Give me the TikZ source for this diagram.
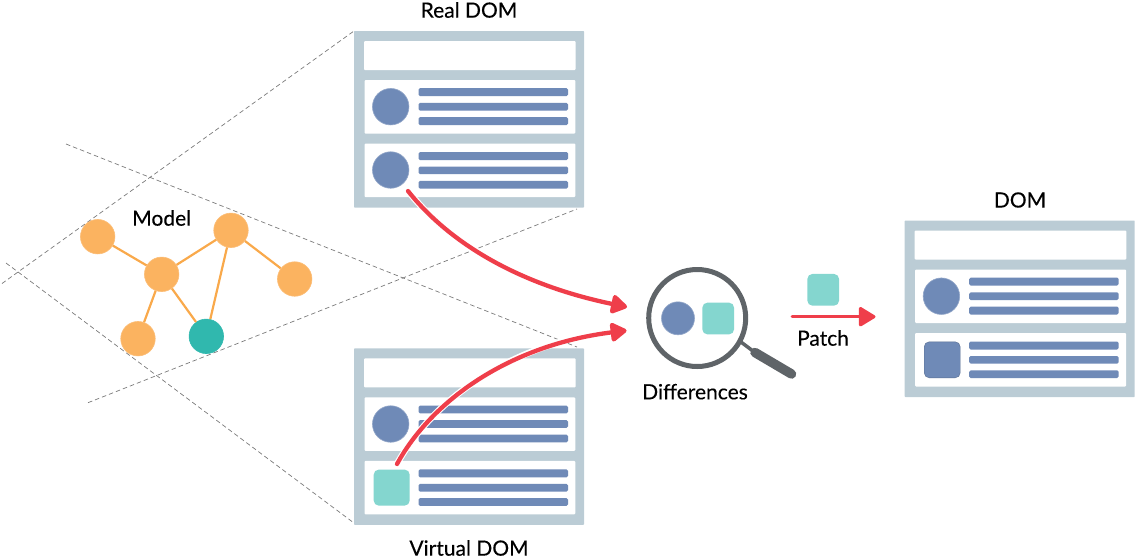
\documentclass[tikz,border=0pt]{standalone}
\usepackage{fontspec}
\setmainfont{Lato}[RawFeature={embolden=0.25}]
\usetikzlibrary{arrows.meta}
\definecolor{winbg}{HTML}{BBCCD5}
\definecolor{blueitem}{HTML}{6F8AB7}
\definecolor{tealitem}{HTML}{84D6CF}
\definecolor{orangeitem}{HTML}{FBB360}
\definecolor{orangeline}{HTML}{F9A94B}
\definecolor{tealdark}{HTML}{30B8AE}
\definecolor{redline}{HTML}{EF3E4A}
\definecolor{lensgray}{HTML}{5F6468}
\definecolor{dashgray}{HTML}{7A7A7A}
\tikzset{
  x=1pt,y=-1pt,
  panel/.style={fill=white,rounded corners=1pt},
  textbar/.style={fill=blueitem,rounded corners=1.5pt},
  avatar/.style={circle,fill=blueitem,draw=blueitem!75!white,line width=.6pt,inner sep=0pt,minimum size=36.5pt},
  squareitem/.style={rectangle,rounded corners=5pt,inner sep=0pt,minimum size=36pt},
  graphnode/.style={circle,fill=orangeitem,draw=orangeitem!85!white,line width=.6pt,inner sep=0pt,minimum size=34.5pt},
  graphedge/.style={orangeline,line width=2.2pt},
  guide/.style={dashgray,line width=.7pt,dash pattern=on 4.5pt off 3pt},
  redarrow/.style={redline,line width=4.3pt,line cap=round,-{Triangle[length=18pt,width=21pt,round=false]}},
  halo/.style={white,line width=6.5pt},
  labeltext/.style={text=black,font=\fontsize{21}{25}\selectfont,inner sep=0pt},
}
\newcommand{\domwin}[4]{%
  \begin{scope}[shift={(#2,#3)}]
    \fill[winbg,rounded corners=.7pt] (354,31) rectangle (584,207.5);
    \fill[panel] (364,41) rectangle (575.7,70);
    \fill[panel] (364.5,80) rectangle (575.3,133.5);
    \fill[panel] (364.5,143.5) rectangle (575.3,197);
    \node[avatar] (#1a) at (390.7,106.7) {};
    \fill[textbar] (418.5,88.2) rectangle (568,96);
    \fill[textbar] (418.5,102.8) rectangle (568,110.5);
    \fill[textbar] (418.5,117.2) rectangle (568,125);
    #4
    \fill[textbar] (418.5,152) rectangle (568,160);
    \fill[textbar] (418.5,166.5) rectangle (568,174.2);
    \fill[textbar] (418.5,180.8) rectangle (568,188.5);
  \end{scope}}
\begin{document}
\begin{tikzpicture}
\useasboundingbox (0,0) rectangle (1137,558);
% dashed guides
\coordinate (g1a) at (2,283.5);  \coordinate (g1b) at (354,31);
\coordinate (g2a) at (66,144);   \coordinate (g2b) at (577,347);
\coordinate (g3a) at (6,263);    \coordinate (g3b) at (354,523);
\coordinate (g4a) at (88,402.7); \coordinate (g4b) at (577,209);
\draw[guide] (g1a) -- (g1b);
\draw[guide] (g2a) -- (g2b);
\draw[guide] (g3a) -- (g3b);
\draw[guide] (g4a) -- (g4b);
% windows
\domwin{real}{0}{0}{\node[avatar] (realb) at (390.7,170) {};}
\domwin{virt}{0}{317.3}{\node[squareitem,fill=tealitem] (virtb) at (391.7,170.3) {};}
\domwin{dom}{550.7}{189.5}{\node[squareitem,fill=blueitem,draw=blueitem!80!black,line width=.4pt] (domb) at (391.5,170.3) {};}
% model graph
\node[graphnode] (n1) at (97.7,236.7) {};
\node[graphnode] (n2) at (161.7,274.3) {};
\node[graphnode] (n3) at (231,230.3) {};
\node[graphnode] (n4) at (294.7,279) {};
\node[graphnode] (n5) at (138,338.7) {};
\node[graphnode,fill=tealdark,draw=tealdark] (n6) at (206.3,336.3) {};
\draw[graphedge] (n1) -- (n2);
\draw[graphedge] (n2) -- (n3);
\draw[graphedge] (n3) -- (n4);
\draw[graphedge] (n2) -- (n5);
\draw[graphedge] (n2) -- (n6);
\draw[graphedge] (n3) -- (n6);
% magnifier
\node[circle,draw=lensgray,fill=white,line width=5pt,inner sep=0pt,minimum size=97pt] (lens) at (697.2,318) {};
\coordinate (h1) at (741,342);
\coordinate (h2) at (755,352.5);
\coordinate (h3) at (791.5,374);
\draw[lensgray,line width=3.5pt] (h1) -- (h2);
\draw[lensgray,line width=9.5pt,line cap=round] (h2) -- (h3);
\node[avatar,minimum size=33pt] (diffa) at (678,318.3) {};
\node[squareitem,fill=tealitem,minimum size=31.7pt] (diffb) at (718.2,318.5) {};
% patch
\node[squareitem,fill=tealitem,minimum size=31.7pt] (patchitem) at (823.2,289.8) {};
\coordinate (ps) at (792,316.7);
\coordinate (pe) at (875.5,316.7);
\draw[redarrow,line width=3pt] (ps) -- (pe);
% red curved arrows
\coordinate (r1s) at (408,191);
\coordinate (r1e) at (627,307);
\coordinate (r2s) at (397,464);
\coordinate (r2e) at (626.5,330.5);
\draw[halo] (r1s) .. controls (455,250) and (530,287) .. (610,303);
\draw[redarrow] (r1s) .. controls (455,250) and (530,287) .. (r1e);
\draw[halo] (r2s) .. controls (432,400) and (510,345) .. (609,331.5);
\draw[redarrow] (r2s) .. controls (432,400) and (510,345) .. (r2e);
% labels
\node[labeltext] (lreal) at (469,10) {Real DOM};
\node[labeltext] (lvirt) at (469,548) {Virtual DOM};
\node[labeltext] (lmodel) at (161.7,218) {Model};
\node[labeltext] (ldiff) at (695,391.7) {Differences};
\node[labeltext] (lpatch) at (823,338) {Patch};
\node[labeltext] (ldom) at (1020,200) {DOM};
\end{tikzpicture}
\end{document}
